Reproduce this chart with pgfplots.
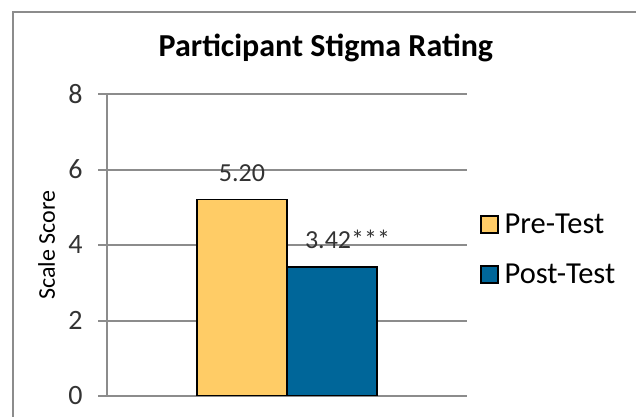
\documentclass[border=0pt]{standalone}
\usepackage{fontspec}
\setmainfont{Carlito}
\usepackage{pgfplots}
\pgfplotsset{compat=1.18}

\definecolor{pretest}{HTML}{FFCC66}
\definecolor{posttest}{HTML}{006699}
\definecolor{gridgray}{HTML}{8C8C8C}
\definecolor{labelgray}{HTML}{333333}

\begin{document}
\begin{tikzpicture}
\useasboundingbox (0,0) rectangle (636bp,417bp);
% chart area frame, cut off at the right and bottom like the source
\draw[gridgray, line width=1.5bp] (13bp,-20bp) -- (13bp,405bp) -- (660bp,405bp);
\begin{axis}[
    at={(107bp,21bp)}, anchor=south west,
    scale only axis, width=360bp, height=302bp,
    ybar=0pt, bar width=90bp,
    xmin=-1, xmax=1, ymin=0, ymax=8,
    xtick=\empty, ytick={0,2,4,6,8},
    axis x line=bottom, axis y line=left,
    axis line style={-, gridgray, line width=2bp},
    ymajorgrids, grid style={gridgray, line width=2bp},
    major tick length=9bp, tick align=outside,
    tick style={gridgray, line width=2bp},
    /pgf/number format/assume math mode=true,
    yticklabel style={font=\fontsize{28bp}{30bp}\selectfont, text=labelgray,
      xshift=-12bp},
    title={Participant Stigma Rating},
    title style={font=\fontsize{32bp}{36bp}\selectfont\bfseries,
      at={(axis description cs:0.608,1)}, anchor=base, yshift=32bp},
    ylabel={Scale Score},
    ylabel style={font=\fontsize{24bp}{28bp}\selectfont,
      at={(axis description cs:0,0.5)}, anchor=base, yshift=52bp},
    legend cell align=left,
    legend style={at={(1.036,0.4854)}, anchor=west, draw=none, fill=none,
      inner sep=0pt, font=\fontsize{30.5bp}{32bp}\selectfont,
      nodes={inner sep=0pt, text height=19bp, text depth=0bp},
      /tikz/row sep=31bp, /tikz/column sep=6bp},
    legend image code/.code={\draw[#1] (0bp,-8.5bp) rectangle (17bp,8.5bp);},
    nodes near coords,
    point meta=explicit symbolic,
    every node near coord/.append style={anchor=base, yshift=18bp,
      font=\fontsize{26bp}{30bp}\selectfont, text=labelgray},
]
\addplot[fill=pretest, draw=black, line width=1.5bp]
  coordinates {(0,5.20) [5.20]};
\addplot[fill=posttest, draw=black, line width=1.5bp,
  every node near coord/.append style={xshift=15.5bp}]
  coordinates {(0,3.42) [3.42***]};
\legend{Pre-Test, Post-Test}
\end{axis}
\end{tikzpicture}
\end{document}
